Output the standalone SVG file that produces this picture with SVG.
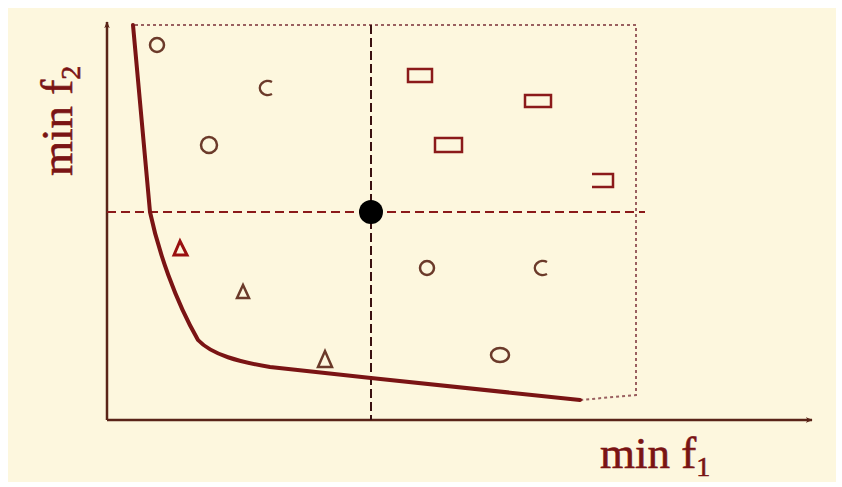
<svg xmlns="http://www.w3.org/2000/svg" width="842" height="487" viewBox="0 0 842 487">
<defs>
<style>
.axis{stroke:#5a2418;stroke-width:2.5;fill:none}
.dash{stroke:#8b1a1a;stroke-width:2;stroke-dasharray:9,5;fill:none}
.vdash{stroke:#3a1010;stroke-width:2;stroke-dasharray:9,4;fill:none}
.dot{stroke:#9a6060;stroke-width:2;stroke-dasharray:3,3;fill:none}
.curve{stroke:#7a1414;stroke-width:4;fill:none;stroke-linecap:round;stroke-linejoin:round}
.pt{fill:none;stroke:#6b3a2a;stroke-width:2.5}
.sq{fill:none;stroke:#8b1a1a;stroke-width:2.5}
.lbl{font-family:"Liberation Serif",serif;font-size:45px;fill:#7a1414;stroke:#7a1414;stroke-width:0.6}
</style>
<marker id="arr" viewBox="0 0 10 10" refX="9" refY="5" markerWidth="7" markerHeight="7" orient="auto" markerUnits="userSpaceOnUse">
<path d="M0,1 L10,5 L0,9 L3,5 Z" fill="#5a2418"/>
</marker>
</defs>
<rect width="842" height="487" fill="#ffffff"/>
<rect x="8" y="8" width="828" height="474" fill="#fdf7de"/>
<g id="connectors">
<line class="axis" x1="107" y1="420" x2="107" y2="22" marker-end="url(#arr)"/>
<line class="axis" x1="107" y1="420" x2="812" y2="420" marker-end="url(#arr)"/>
<polyline class="dot" points="135,25 636,25 636,395 580,400"/>
<line class="vdash" x1="371" y1="25" x2="371" y2="420"/>
<line class="dash" x1="107" y1="212" x2="645" y2="212"/>
<path class="curve" d="M133,25 L150,212 C158,250 175,300 198,340 C212,355 240,362 270,367 L371,378 L580,400"/>
</g>
<g id="ref-point"><circle cx="371" cy="212" r="12" fill="#000"/></g>
<g id="circles">
<circle class="pt" cx="157" cy="45" r="7"/>
<path class="pt" d="M272,82 A8,7 0 1 0 272,94"/>
<circle class="pt" cx="209" cy="145" r="8"/>
<circle class="pt" cx="427" cy="268" r="7"/>
<path class="pt" d="M547,262 A8,7 0 1 0 547,274"/>
<ellipse class="pt" cx="500" cy="355" rx="9" ry="7"/>
</g>
<g id="squares">
<rect class="sq" x="408" y="69" width="24" height="13"/>
<rect class="sq" x="525" y="95" width="26" height="12"/>
<rect class="sq" x="435" y="138" width="27" height="14"/>
<polyline class="sq" points="592,174 613,174 613,187 592,187"/>
</g>
<g id="triangles">
<path d="M174,255 L180,241 L187,255 Z" fill="none" stroke="#9a1010" stroke-width="3"/>
<path class="pt" d="M237,298 L243,285 L249,298 Z"/>
<path class="pt" d="M318,367 L325,351 L332,367 Z"/>
</g>
<g id="labels">
<text class="lbl" transform="translate(72,176) rotate(-90)">min f<tspan font-size="28" dy="8">2</tspan></text>
<text class="lbl" x="600" y="468">min f<tspan font-size="28" dy="8">1</tspan></text>
</g>
</svg>
